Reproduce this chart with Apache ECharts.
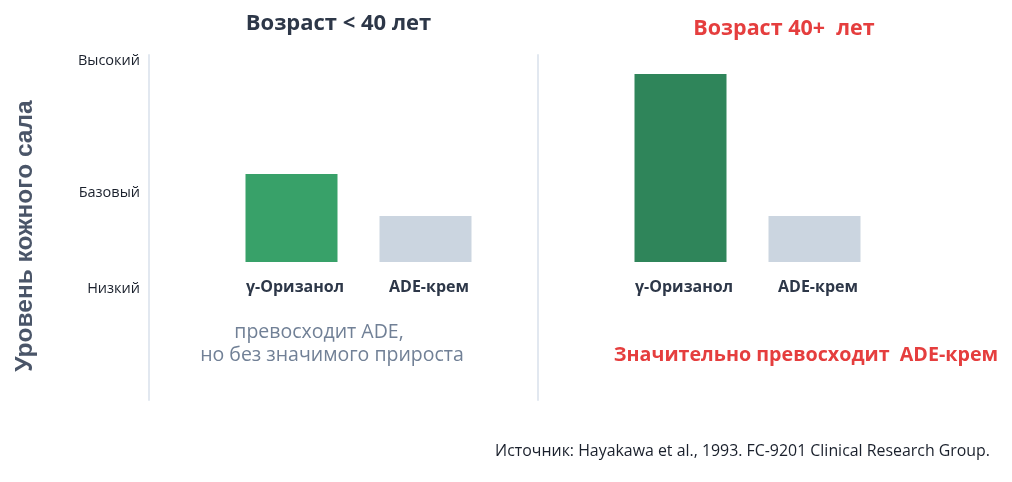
<!DOCTYPE html>
<html>
<head>
<meta charset="utf-8">
<title>Уровень кожного сала</title>
<script src="https://cdn.jsdelivr.net/npm/echarts@6.0.0/dist/echarts.min.js"></script>
<style>
  html, body { margin: 0; padding: 0; background: #fff; }
  #chart { width: 1012px; height: 482px; }
</style>
</head>
<body>
<div id="chart"></div>
<script>
// данные
var categories = ['γ-Оризанол', 'ADE-крем'];
var youngValues = [3.83, 2.0];   // возраст < 40
var olderValues = [8.17, 2.0];   // возраст 40+
var levelValues = [-1.17, 3.0, 8.74];
var levelLabels = ['Низкий', 'Базовый', 'Высокий'];

var FONT = '"Open Sans", "Noto Sans", sans-serif';
var greenLight = '#38a169';
var greenDark = '#2f855a';
var grey = '#cbd5e0';

function levelName(v) {
  for (var i = 0; i < levelValues.length; i++) {
    if (Math.abs(levelValues[i] - v) < 1e-6) return levelLabels[i];
  }
  return '';
}

function yAxisFor(idx, showLabels) {
  return {
    type: 'value',
    gridIndex: idx,
    min: -6,
    max: 9,
    offset: idx === 0 ? 75.5 : 76,
    splitLine: { show: false },
    axisTick: { show: false },
    axisLine: { show: true, lineStyle: { color: '#e2e8f0', width: 2 } },
    axisLabel: {
      show: showLabels,
      customValues: levelValues,
      formatter: levelName,
      margin: 9,
      color: '#1a202c',
      fontSize: 14.5,
      fontFamily: FONT
    }
  };
}

function xAxisFor(idx) {
  return {
    type: 'category',
    gridIndex: idx,
    data: categories,
    position: 'bottom',
    offset: -138,   // подписи сразу под основанием столбцов
    axisLine: { show: false },
    axisTick: { show: false },
    axisLabel: {
      margin: 17,
      padding: [0, 0, 0, 7],
      color: '#2d3748',
      fontSize: 16,
      fontWeight: 'bold',
      fontFamily: FONT
    }
  };
}

function barData(values, mainColor) {
  return values.map(function (v, i) {
    return { value: v, itemStyle: { color: i === 0 ? mainColor : grey } };
  });
}

var chart = echarts.init(document.getElementById('chart'));
var option = {
  backgroundColor: '#fff',
  animation: false,
  title: [{
    text: 'Возраст < 40 лет',
    left: 333.5,
    top: 8,
    textAlign: 'center',
    textStyle: { color: '#2d3748', fontSize: 22, fontWeight: 'bold', fontFamily: FONT }
  }, {
    text: 'Возраст 40+  лет',
    left: 779,
    top: 13,
    textAlign: 'center',
    textStyle: { color: '#e53e3e', fontSize: 21.5, fontWeight: 'bold', fontFamily: FONT }
  }],
  grid: [
    { left: 224.5, top: 55, width: 268, height: 345 },
    { left: 613.5, top: 55, width: 268, height: 345 }
  ],
  xAxis: [xAxisFor(0), xAxisFor(1)],
  yAxis: [yAxisFor(0, true), yAxisFor(1, false)],
  series: [{
    type: 'bar',
    xAxisIndex: 0,
    yAxisIndex: 0,
    barWidth: 92,
    data: barData(youngValues, greenLight)
  }, {
    type: 'bar',
    xAxisIndex: 1,
    yAxisIndex: 1,
    barWidth: 92,
    data: barData(olderValues, greenDark)
  }],
  graphic: [{
    type: 'text',
    x: 25,
    y: 236,
    rotation: Math.PI / 2,
    style: {
      text: 'Уровень кожного сала',
      x: 0, y: 0,
      align: 'center',
      verticalAlign: 'middle',
      fill: '#4a5568',
      font: 'bold 24.5px "Liberation Sans", Arial, sans-serif'
    }
  }, {
    type: 'text',
    style: {
      text: 'превосходит ADE,',
      x: 319, y: 332,
      align: 'center',
      verticalAlign: 'middle',
      fill: '#718096',
      font: '19.5px ' + FONT
    }
  }, {
    type: 'text',
    style: {
      text: 'но без значимого прироста',
      x: 332, y: 355,
      align: 'center',
      verticalAlign: 'middle',
      fill: '#718096',
      font: '19.5px ' + FONT
    }
  }, {
    type: 'text',
    style: {
      text: 'Значительно превосходит  ADE-крем',
      x: 806, y: 355,
      align: 'center',
      verticalAlign: 'middle',
      fill: '#e53e3e',
      font: 'bold 19.7px ' + FONT
    }
  }, {
    type: 'text',
    style: {
      text: 'Источник: Hayakawa et al., 1993. FC-9201 Clinical Research Group.',
      x: 990, y: 451,
      align: 'right',
      verticalAlign: 'middle',
      fill: '#1a202c',
      font: '15.9px ' + FONT
    }
  }]
};
chart.setOption(option);
</script>
</body>
</html>
